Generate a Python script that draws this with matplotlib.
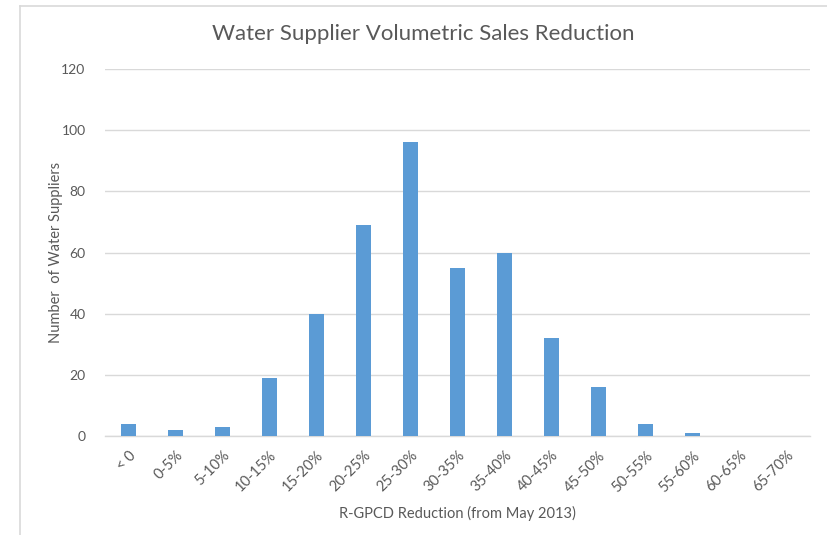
import matplotlib
matplotlib.use("Agg")
import matplotlib.pyplot as plt
from matplotlib.lines import Line2D

categories = ["< 0", "0-5%", "5-10%", "10-15%", "15-20%", "20-25%", "25-30%",
              "30-35%", "35-40%", "40-45%", "45-50%", "50-55%", "55-60%",
              "60-65%", "65-70%"]
suppliers = [4, 2, 3, 19, 40, 69, 96, 55, 60, 32, 16, 4, 1, 0, 0]
y_ticks = [0, 20, 40, 60, 80, 100, 120]

plt.rcParams['font.family'] = ['Lato', 'DejaVu Sans']

W, H = 827, 535
fig = plt.figure(figsize=(W / 100, H / 100), dpi=100)
fig.patch.set_facecolor("white")

# chart frame (top and left edges)
frame_col = "#d9d9d9"
fig.add_artist(Line2D([20 / W, 1.0], [1 - 6 / H, 1 - 6 / H], color=frame_col, lw=1.2))
fig.add_artist(Line2D([20 / W, 20 / W], [0, 1 - 6 / H], color=frame_col, lw=1.2))

ax = fig.add_axes([105 / W, 1 - 436 / H, (810 - 105) / W, (436 - 69) / H])
x = list(range(len(categories)))
ax.bar(x, suppliers, width=0.3, color="#5b9bd5", zorder=3)

ax.set_xlim(-0.5, len(categories) - 0.5)
ax.set_ylim(0, 120)
ax.set_yticks(y_ticks)
ax.yaxis.grid(True, color="#d9d9d9", lw=1.0, zorder=0)
for s in ["top", "right", "left"]:
    ax.spines[s].set_visible(False)
ax.spines["bottom"].set_color("#d9d9d9")
ax.spines["bottom"].set_linewidth(1.0)

tick_col = "#595959"
ax.tick_params(axis="y", length=0, pad=14, labelsize=10, labelcolor=tick_col)
ax.tick_params(axis="x", length=0, pad=9, labelsize=10.5, labelcolor=tick_col)
ax.set_xticks(x)
ax.set_xticklabels(categories, rotation=45, ha="right", va="top",
                   rotation_mode="anchor")

ax.set_xlabel("R-GPCD Reduction (from May 2013)", fontsize=10.5, color=tick_col,
              labelpad=8)
ax.set_ylabel("Number  of Water Suppliers", fontsize=10.5, color=tick_col,
              labelpad=-1)
fig.text(423 / W, 1 - 34 / H,
         "Water Supplier Volumetric Sales Reduction",
         ha="center", va="center", fontsize=16, color="#595959")

fig.savefig("out.png", dpi=100)
